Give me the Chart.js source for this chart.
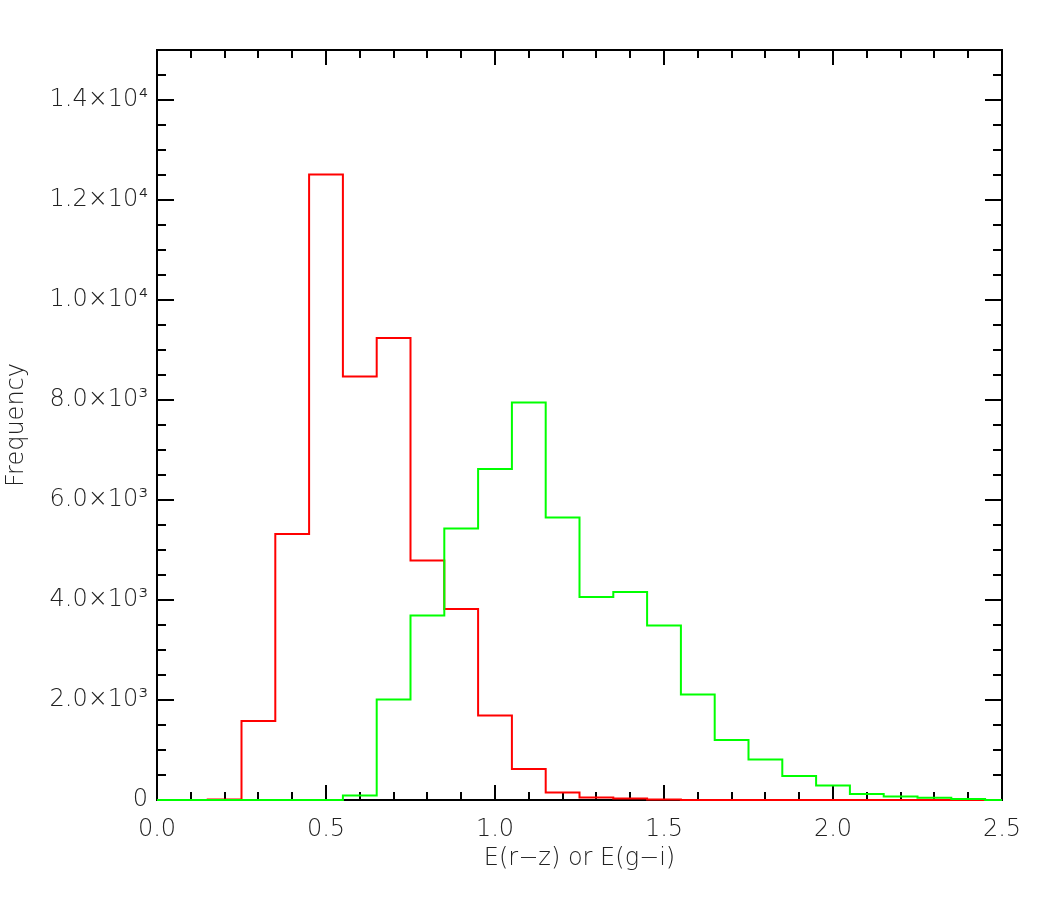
<!DOCTYPE html>
<html>
<head>
<meta charset="utf-8">
<script src="https://cdn.jsdelivr.net/npm/chart.js@4/dist/chart.umd.min.js"></script>
<style>
  body{margin:0;background:#fff;}
  #wrap{width:1050px;height:900px;}
</style>
</head>
<body>
<div id="wrap"><canvas id="chartHist" width="1050" height="900"></canvas></div>
<script>
// bin centres (bin width 0.1)
let binCentres = [0.0,0.1,0.2,0.3,0.4,0.5,0.6,0.7,0.8,0.9,1.0,1.1,1.2,1.3,1.4,1.5,1.6,1.7,1.8,1.9,2.0,2.1,2.2,2.3,2.4,2.5];

// E(r-z) counts
let redCounts = [0,0,10,1580,5320,12510,8470,9240,4790,3820,1690,620,150,50,30,10,0,0,0,0,0,0,0,0,0,0];

// E(g-i) counts
let greenCounts = [0,0,0,0,0,0,90,2010,3690,5430,6620,7950,5650,4060,4160,3490,2110,1200,810,480,290,120,70,45,20,0];

let yTickValues = [0,2000,4000,6000,8000,10000,12000,14000];
let xTickValues = [0.0,0.5,1.0,1.5,2.0,2.5];

let fontFam = "'DejaVu Sans', sans-serif";
let textColor = '#222';

function supNum(n){
    let sup = {'0':'⁰','1':'¹','2':'²','3':'³','4':'⁴','5':'⁵','6':'⁶','7':'⁷','8':'⁸','9':'⁹','-':'⁻'};
    return String(n).split('').map(c=>sup[c]).join('');
}

function sciLabel(v){
    if(v == 0) return '0';
    let e = Math.floor(Math.log10(v));
    let m = v / Math.pow(10,e);
    return m.toFixed(1) + '×10' + supNum(e);
}

function toPoints(arr){
    return arr.map((v,i)=>({x: binCentres[i], y: v}));
}

// IDL style frame with inward ticks on all four sides
const frameTicks = {
    id: 'frameTicks',
    beforeDatasetsDraw(chart){
        let ctx = chart.ctx;
        let a = chart.chartArea;
        let xs = chart.scales.x;
        let ys = chart.scales.y;
        ctx.save();
        ctx.strokeStyle = '#000';
        ctx.lineWidth = 2;
        ctx.strokeRect(a.left, a.top, a.right - a.left, a.bottom - a.top);

        ctx.beginPath();
        for(let i = 0; i <= 25; i++){
            let px = Math.round(xs.getPixelForValue(i/10));
            let len = i % 5 == 0 ? 15 : 8;
            ctx.moveTo(px, a.bottom); ctx.lineTo(px, a.bottom - len);
            ctx.moveTo(px, a.top); ctx.lineTo(px, a.top + len);
        }
        for(let v = 0; v <= 15000; v += 500){
            let py = Math.round(ys.getPixelForValue(v));
            let len = v % 2000 == 0 ? 17 : 9;
            ctx.moveTo(a.left, py); ctx.lineTo(a.left + len, py);
            ctx.moveTo(a.right, py); ctx.lineTo(a.right - len, py);
        }
        ctx.stroke();
        ctx.restore();
    }
};

// chart.js paints dataset 0 last, so green sits on top of red
let config = {
    type: 'line',
    data: {
        datasets: [{
            label: 'E(g-i)',
            data: toPoints(greenCounts),
            borderColor: 'rgb(0,255,0)',
            borderWidth: 2,
            stepped: 'middle',
            pointRadius: 0,
            fill: false,
            clip: 3
        },{
            label: 'E(r-z)',
            data: toPoints(redCounts),
            borderColor: 'rgb(255,0,0)',
            borderWidth: 2,
            stepped: 'middle',
            pointRadius: 0,
            fill: false,
            clip: 3
        }]
    },
    options: {
        responsive: false,
        animation: false,
        layout: {padding: {left: 0, top: 50, right: 48, bottom: 0}},
        plugins: {
            legend: {display: false},
            tooltip: {enabled: false}
        },
        scales: {
            x: {
                type: 'linear',
                min: 0,
                max: 2.5,
                grid: {display: false, drawTicks: false},
                border: {display: false},
                afterBuildTicks: s => { s.ticks = xTickValues.map(v=>({value: v})); },
                afterFit: s => { s.height = 100; },
                ticks: {
                    padding: 15,
                    color: textColor,
                    font: {family: fontFam, size: 24, weight: 200},
                    callback: v => Number(v).toFixed(1),
                    maxRotation: 0
                },
                title: {
                    display: true,
                    text: 'E(r−z) or E(g−i)',
                    color: textColor,
                    font: {family: fontFam, size: 24, weight: 200},
                    padding: {top: 0, bottom: 27}
                }
            },
            y: {
                type: 'linear',
                min: 0,
                max: 15000,
                grid: {display: false, drawTicks: false},
                border: {display: false},
                afterBuildTicks: s => { s.ticks = yTickValues.map(v=>({value: v})); },
                afterFit: s => { s.width = 157; },
                ticks: {
                    padding: 9,
                    color: textColor,
                    font: {family: fontFam, size: 24, weight: 200},
                    callback: v => sciLabel(v)
                },
                title: {
                    display: true,
                    text: 'Frequency',
                    color: textColor,
                    font: {family: fontFam, size: 24, weight: 200},
                    padding: {top: 2, bottom: 0}
                }
            }
        }
    },
    plugins: [frameTicks]
};

let chartHist = new Chart(document.getElementById('chartHist'), config);
</script>
</body>
</html>
